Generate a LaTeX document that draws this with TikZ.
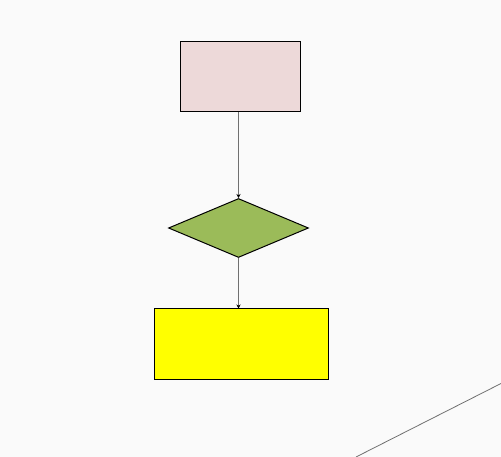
\documentclass[tikz,border=0pt]{standalone}
\usetikzlibrary{shapes.geometric,arrows.meta}
\definecolor{bg}{HTML}{FAFAFA}
\definecolor{pinkfill}{HTML}{EDD9D9}
\definecolor{greenfill}{HTML}{9BBB59}
\definecolor{yellowfill}{HTML}{FFFF00}
\definecolor{conn}{HTML}{707070}
\begin{document}
\begin{tikzpicture}[x=1pt,y=-1pt,
  boxshape/.style={draw=black,line width=1pt,inner sep=0pt,rectangle},
  decision/.style={draw=black,line width=1pt,inner sep=0pt,diamond,aspect=2.37},
  flowarrow/.style={draw=conn,line width=1.4pt,-{Stealth[length=4pt,width=4pt,black]}},
  plainline/.style={draw=conn,line width=0.8pt}]
\fill[bg] (0,0) rectangle (501,457);
\useasboundingbox (0,0) rectangle (501,457);
\node[boxshape,fill=pinkfill,minimum width=120pt,minimum height=70pt] (p) at (240,77) {};
\node[decision,fill=greenfill,minimum width=140pt,minimum height=59pt] (d) at (238.5,228) {};
\node[boxshape,fill=yellowfill,minimum width=174pt,minimum height=70pt] (y) at (241.5,344) {};
\draw[flowarrow] (d.north |- p.south) -- (d.north);
\draw[flowarrow] (d.south) -- (d.south |- y.north);
\coordinate (l1) at (356,457);
\coordinate (l2) at (501,383.5);
\draw[plainline] (l1) -- (l2);
\end{tikzpicture}
\end{document}
